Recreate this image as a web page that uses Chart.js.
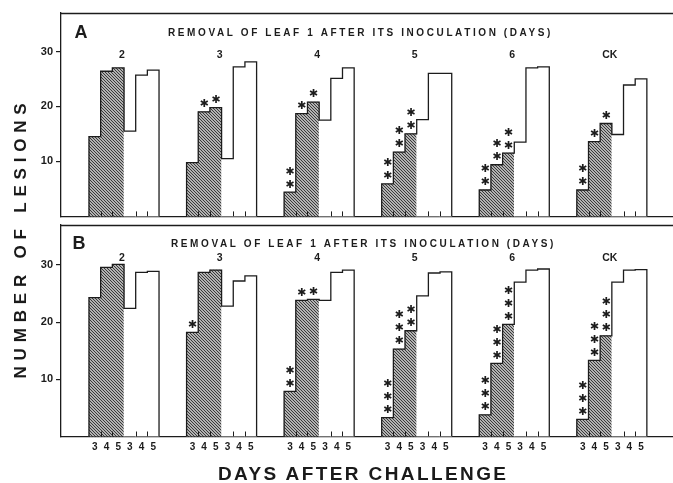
<!DOCTYPE html>
<html><head><meta charset="utf-8">
<script src="https://cdn.jsdelivr.net/npm/chart.js@4.4.1/dist/chart.umd.min.js"></script>
<style>
html,body{margin:0;padding:0;background:#fff;width:673px;height:483px;overflow:hidden;position:relative;font-family:'Liberation Sans',Arial,sans-serif;}
canvas{position:absolute;left:0;}
#cA{top:0;}
#cB{top:215px;}
.ytitle{position:absolute;left:-129px;top:226px;width:300px;height:24px;line-height:24px;text-align:center;transform:rotate(-90deg);font-weight:bold;font-size:17px;letter-spacing:5.8px;color:#1a1a1a;white-space:nowrap;}
.xtitle{position:absolute;left:218px;top:462px;height:24px;line-height:24px;font-weight:bold;font-size:19px;letter-spacing:2.4px;color:#1a1a1a;white-space:nowrap;}
</style></head>
<body>
<canvas id="cA" width="673" height="226"></canvas>
<canvas id="cB" width="673" height="268"></canvas>
<div class="ytitle">NUMBER OF LESIONS</div>
<div class="xtitle">DAYS AFTER CHALLENGE</div>
<script>
// ---- data ----
const GROUPS = ['2', '3', '4', '5', '6', 'CK'];
const DAYS = ['3', '4', '5'];
const PANEL_TITLE = 'REMOVAL OF LEAF 1 AFTER ITS INOCULATION (DAYS)';
const Y_TICKS = [10, 20, 30];

// Panel A: hatched bars (days 3,4,5) and open bars (days 3,4,5) per group
const A_HATCHED = [[14.5, 26.4, 27.0], [9.8, 19.0, 19.8], [4.4, 18.7, 20.8], [5.9, 11.7, 15.0], [4.8, 9.4, 11.5], [4.8, 13.6, 16.9]];
const A_OPEN    = [[15.5, 25.7, 26.6], [10.5, 27.2, 28.1], [17.5, 25.1, 27.0], [17.6, 26.0, 26.0], [13.5, 27.0, 27.2], [14.9, 23.9, 25.0]];
const A_STARS   = [[0, 0, 0], [0, 1, 1], [2, 1, 1], [2, 2, 2], [2, 2, 2], [2, 1, 1]];

// Panel B
const B_HATCHED = [[24.3, 29.6, 30.1], [18.2, 28.7, 29.1], [7.9, 23.8, 24.0], [3.3, 15.3, 18.5], [3.8, 12.8, 19.6], [3.0, 13.3, 17.6]];
const B_OPEN    = [[22.4, 28.7, 28.9], [22.8, 27.2, 28.1], [23.8, 28.7, 29.1], [24.6, 28.6, 28.8], [27.0, 29.1, 29.3], [27.0, 29.1, 29.2]];
const B_STARS   = [[0, 0, 0], [1, 0, 0], [2, 1, 1], [3, 3, 2], [3, 3, 3], [3, 3, 3]];

// ---- layout constants ----
const STEP = 8.36;           // group pitch in bar widths
const XMIN = -2.40, XMAX = 50.04;
const INK = '#1c1c1c';
const FONT = "'Liberation Sans', Arial, sans-serif";

function hatchPattern() {
  const c = document.createElement('canvas');
  c.width = 3; c.height = 3;
  const x = c.getContext('2d');
  x.fillStyle = '#b2b2b2'; x.fillRect(0, 0, 3, 3);
  x.fillStyle = '#3a3a3a';
  for (let i = 0; i < 3; i++) x.fillRect(i, i, 1, 1);
  return x.createPattern(c, 'repeat');
}
const HATCH = hatchPattern();

function groupValues(hatched, open, gi) { return hatched[gi].concat(open[gi]); }

function buildBars(hatched, open) {
  const data = [], colors = [];
  GROUPS.forEach((g, gi) => {
    groupValues(hatched, open, gi).forEach((v, i) => {
      data.push({ x: gi * STEP + i + 0.5, y: v });
      colors.push(i < DAYS.length ? HATCH : '#ffffff');
    });
  });
  return { data, colors };
}
function buildOutline(hatched, open) {
  const pts = [];
  GROUPS.forEach((g, gi) => {
    const vals = groupValues(hatched, open, gi);
    const x0 = gi * STEP;
    pts.push({ x: x0, y: 0 });
    vals.forEach((v, i) => pts.push({ x: x0 + i, y: v }));
    pts.push({ x: x0 + vals.length, y: 0 });
    pts.push({ x: x0 + vals.length, y: null });
  });
  return pts;
}
const CENTERS = [];
GROUPS.forEach((g, gi) => { for (let i = 0; i < 6; i++) CENTERS.push(gi * STEP + i + 0.5); });

const decor = {
  id: 'decor',
  afterDatasetsDraw(chart, args, o) {
    const { ctx, chartArea: ca, scales: { x, y } } = chart;
    ctx.save();
    ctx.strokeStyle = INK;
    ctx.lineWidth = 1.3;
    // top frame line
    ctx.beginPath();
    ctx.moveTo(ca.left, ca.top + 0.5);
    ctx.lineTo(ca.right, ca.top + 0.5);
    ctx.stroke();
    // small ticks at bar boundaries
    ctx.lineWidth = 1;
    const base = y.getPixelForValue(0);
    GROUPS.forEach((g, gi) => {
      [1, 2, 4, 5].forEach(e => {
        const px = Math.round(x.getPixelForValue(gi * STEP + e)) + 0.5;
        ctx.beginPath(); ctx.moveTo(px, base); ctx.lineTo(px, base - 5); ctx.stroke();
      });
    });
    // asterisks
    ctx.fillStyle = INK;
    ctx.font = "bold 11px 'DejaVu Sans'";
    ctx.textAlign = 'center';
    ctx.textBaseline = 'middle';
    GROUPS.forEach((g, gi) => {
      o.stars[gi].forEach((n, i) => {
        const px = x.getPixelForValue(gi * STEP + i + 0.5);
        const top = y.getPixelForValue(o.hatched[gi][i]);
        for (let k = 0; k < n; k++) ctx.fillText('\u2731', px, top - 7.5 - k * 13);
      });
    });
    ctx.restore();
  },
  afterDraw(chart, args, o) {
    const { ctx, chartArea: ca, scales: { x } } = chart;
    ctx.save();
    ctx.fillStyle = INK;
    ctx.textBaseline = 'middle';
    ctx.textAlign = 'center';
    ctx.font = 'bold 18px ' + FONT;
    ctx.fillText(o.letter, ca.left + o.letterDX, ca.top + o.letterDY);
    ctx.textAlign = 'left';
    ctx.font = 'bold 10px ' + FONT;
    ctx.letterSpacing = '2.6px';
    ctx.fillText(PANEL_TITLE, ca.left + o.subDX, ca.top + o.subDY);
    ctx.letterSpacing = '0px';
    ctx.textAlign = 'center';
    ctx.font = 'bold 10.5px ' + FONT;
    GROUPS.forEach((g, gi) => {
      ctx.fillText(g, x.getPixelForValue(gi * STEP + 3) - 2, ca.top + o.groupDY);
    });
    ctx.restore();
  }
};

function makeChart(id, hatched, open, stars, p) {
  const bars = buildBars(hatched, open);
  return new Chart(document.getElementById(id), {
    type: 'bar',
    data: {
      datasets: [
        { type: 'line', data: buildOutline(hatched, open), stepped: true, borderColor: INK, borderWidth: 1.3,
          pointRadius: 0, fill: false, spanGaps: false, order: 1 },
        { type: 'bar', data: bars.data, backgroundColor: bars.colors, borderWidth: 0,
          barPercentage: 1, categoryPercentage: 1, order: 2 }
      ]
    },
    options: {
      responsive: false, animation: false,
      layout: { padding: { top: p.padTop, left: 0, right: 0, bottom: 0 } },
      plugins: { legend: { display: false }, tooltip: { enabled: false },
        decor: { letter: p.letter, letterDX: p.letterDX, letterDY: p.letterDY, subDX: p.subDX, subDY: p.subDY,
                 groupDY: p.groupDY, hatched: hatched, stars: stars } },
      scales: {
        x: {
          type: 'linear', min: XMIN, max: XMAX, offset: false,
          grid: { display: false, drawTicks: false },
          border: { display: true, color: INK, width: 1.3 },
          afterBuildTicks: s => { s.ticks = CENTERS.map(v => ({ value: v })); },
          afterFit: s => { s.height = p.xHeight; },
          ticks: { display: p.showX, autoSkip: false, maxRotation: 0, minRotation: 0, padding: 5,
                   color: INK, font: { family: FONT, size: 10, weight: 'bold' },
                   callback: (v, i) => DAYS[i % 3] }
        },
        y: {
          type: 'linear', min: 0, max: 37,
          afterBuildTicks: s => { s.ticks = Y_TICKS.map(v => ({ value: v })); },
          afterFit: s => { s.width = 61; },
          grid: { drawOnChartArea: false, drawTicks: true, tickLength: 5, color: INK, lineWidth: 1.2 },
          border: { display: true, color: INK, width: 1.3 },
          ticks: { padding: 3, color: INK, font: { family: FONT, size: 11, weight: 'bold' } }
        }
      }
    },
    plugins: [decor]
  });
}

makeChart('cA', A_HATCHED, A_OPEN, A_STARS,
  { padTop: 13, xHeight: 2, showX: false, letter: 'A', letterDX: 20, letterDY: 20, subDX: 107, subDY: 20, groupDY: 42.5 });
makeChart('cB', B_HATCHED, B_OPEN, B_STARS,
  { padTop: 10, xHeight: 46.5, showX: true, letter: 'B', letterDX: 18, letterDY: 19, subDX: 110, subDY: 19, groupDY: 33 });
</script>
</body></html>
